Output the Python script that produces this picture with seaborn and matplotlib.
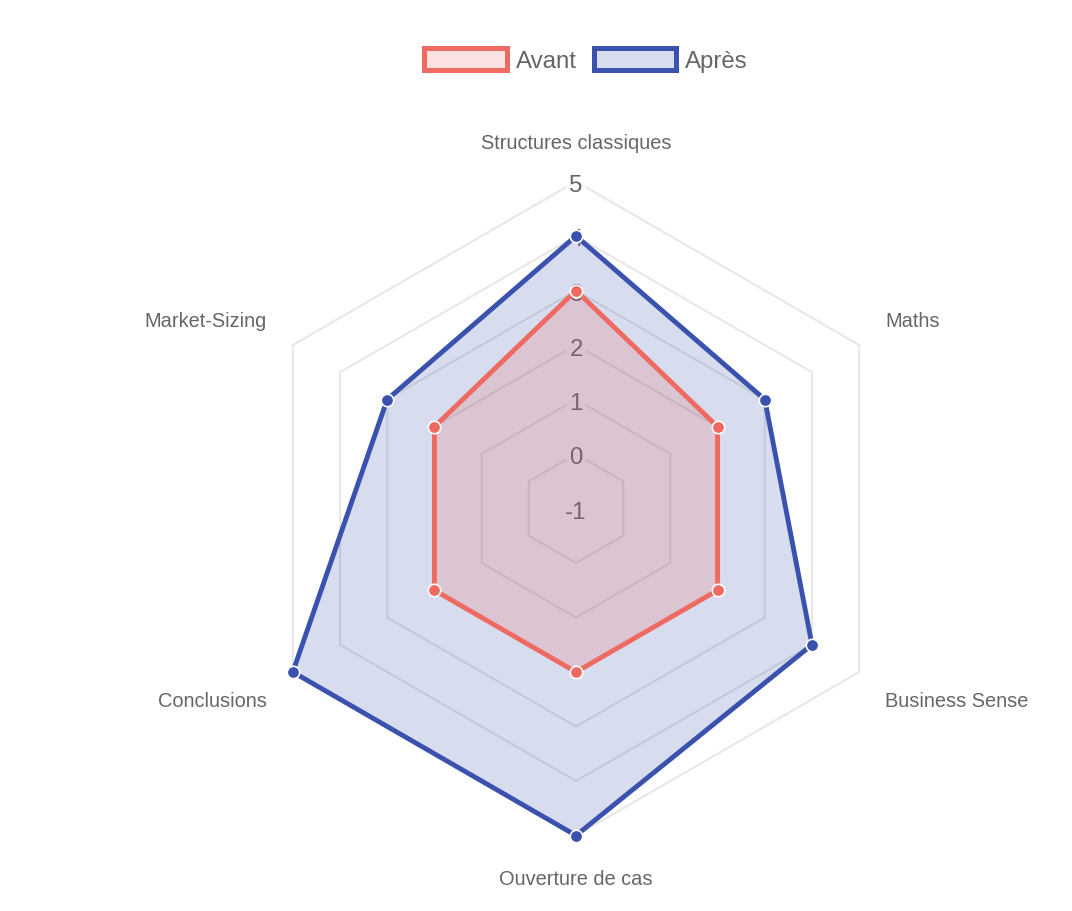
import numpy as np
import matplotlib
matplotlib.use("Agg")
import matplotlib.pyplot as plt
import matplotlib.transforms as mtransforms
import seaborn as sns
from matplotlib.patches import Patch
from matplotlib.colors import to_rgba

categories = ["Structures classiques", "Maths", "Business Sense",
              "Ouverture de cas", "Conclusions", "Market-Sizing"]
avant = [3, 2, 2, 2, 2, 2]
apres = [4, 3, 4, 5, 5, 3]
tick_values = [-1, 0, 1, 2, 3, 4, 5]
series_names = ["Avant", "Après"]
series_values = [avant, apres]
colors = ["#ef6a62", "#3a52ad"]

sns.set_theme(style="white")
plt.rcParams['font.family'] = ['Liberation Sans', 'DejaVu Sans']

W, H = 1072, 912
fig = plt.figure(figsize=(W / 100, H / 100), dpi=100)
fig.patch.set_facecolor("white")
cx, cy, R = 576, 509.5, 327
ax = fig.add_axes([(cx - R) / W, (H - cy - R) / H, 2 * R / W, 2 * R / H],
                  projection='polar')
ax.set_theta_offset(np.pi / 2)
ax.set_theta_direction(-1)
ax.set_ylim(tick_values[0], tick_values[-1])
ax.grid(False)
ax.spines['polar'].set_visible(False)
ax.set_xticks([])
ax.set_yticks([])
ax.set_facecolor('none')

n = len(categories)
theta = np.linspace(0, 2 * np.pi, n, endpoint=False)
theta_closed = np.append(theta, theta[0])

# hexagonal grid rings
for t in tick_values[1:]:
    ax.plot(theta_closed, [t] * (n + 1), color='#e6e6e6', lw=1.44, zorder=1,
            clip_on=False)

# tick labels (under datasets, like Chart.js)
tick_tr = mtransforms.offset_copy(ax.transData, fig=fig, x=0, y=-3.5, units='dots')
for t in tick_values:
    ax.text(0, t, str(t), ha='center', va='center', fontsize=17.3,
            color='#666666', zorder=2, transform=tick_tr,
            bbox=dict(boxstyle='square,pad=0.12', fc=(1, 1, 1, 0.75), ec='none'))

# datasets: draw last first so the first is on top
for idx in reversed(range(len(series_names))):
    vals = series_values[idx]
    c = colors[idx]
    vals_closed = list(vals) + [vals[0]]
    z = 3 + (len(series_names) - idx) * 3
    ax.fill(theta_closed, vals_closed, color=c, alpha=0.2, lw=0, zorder=z,
            clip_on=False)
    sns.lineplot(x=theta_closed, y=vals_closed, sort=False, estimator=None,
                 color=c, lw=3.5, ax=ax, zorder=z + 1, clip_on=False)
    sns.scatterplot(x=theta, y=vals, s=80, color=c, edgecolor='white',
                    linewidth=1.2, ax=ax, zorder=z + 2, clip_on=False)

ax.set_xlabel("")
ax.set_ylabel("")
ax.set_ylim(tick_values[0], tick_values[-1])

# point labels
r_label = tick_values[0] + 357 / R * (tick_values[-1] - tick_values[0])
aligns = [('center', 'bottom'), ('left', 'bottom'), ('left', 'top'),
          ('center', 'top'), ('right', 'top'), ('right', 'bottom')]
for th, lab, (ha, va) in zip(theta, categories, aligns):
    dy = 0 if va == 'bottom' else -4
    tr = mtransforms.offset_copy(ax.transData, fig=fig, x=0, y=dy, units='dots')
    ax.text(th, r_label, lab, ha=ha, va=va, fontsize=14.4, color='#666666',
            transform=tr)

# legend
handles = [Patch(facecolor=to_rgba(c, 0.2), edgecolor=c, linewidth=3.6)
           for c in colors]
fig.legend(handles, series_names, loc='center',
           bbox_to_anchor=(586 / W, 1 - 61 / H), ncol=2, frameon=False,
           fontsize=17.3, handlelength=3.45, handleheight=1.05,
           handletextpad=0.36, columnspacing=0.7, labelcolor='#666666')

fig.savefig("out.png", dpi=100, facecolor="white")
